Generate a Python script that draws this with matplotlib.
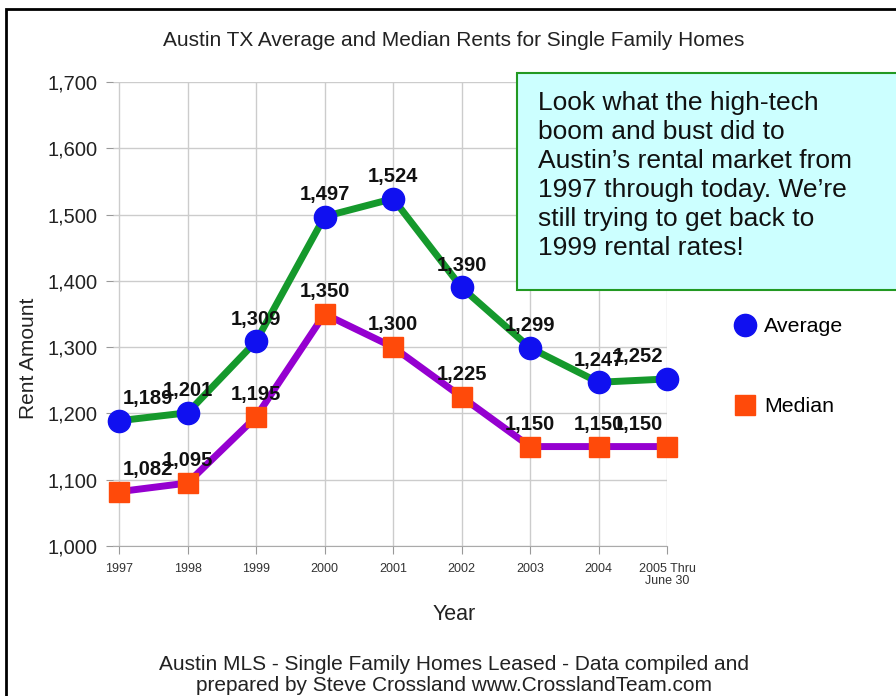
import matplotlib
matplotlib.use("Agg")
import matplotlib.pyplot as plt
from matplotlib.patches import Rectangle
from matplotlib.lines import Line2D

plt.rcParams["font.family"] = ["Liberation Sans", "DejaVu Sans"]

years = ["1997", "1998", "1999", "2000", "2001", "2002", "2003", "2004", "2005 Thru\nJune 30"]
average = [1189, 1201, 1309, 1497, 1524, 1390, 1299, 1247, 1252]
median = [1082, 1095, 1195, 1350, 1300, 1225, 1150, 1150, 1150]

# horizontal nudge of the value labels (points), first and last pushed inwards
label_dx = [21, 0, 0, 0, 0, 0, 0, 0, -21]

fig = plt.figure(figsize=(8.96, 6.96), dpi=100)
ax = fig.add_axes([113 / 896, 1 - 546 / 696, (667 - 113) / 896, (546 - 82) / 696])

x = list(range(len(years)))
ax.plot(x, average, color="#15992c", linewidth=5, marker="o", markersize=16,
        markerfacecolor="#1010f0", markeredgecolor="#1010f0", zorder=3, clip_on=False)
ax.plot(x, median, color="#9500d0", linewidth=5, marker="s", markersize=15,
        markerfacecolor="#ff4a0a", markeredgecolor="#ff4a0a", zorder=3, clip_on=False)

for i, (a, m) in enumerate(zip(average, median)):
    ax.annotate(f"{a:,}", (i, a), xytext=(label_dx[i], 12), textcoords="offset points",
                ha="center", va="baseline", fontsize=14.5, fontweight="bold", color="#111111", zorder=4)
    ax.annotate(f"{m:,}", (i, m), xytext=(label_dx[i], 12), textcoords="offset points",
                ha="center", va="baseline", fontsize=14.5, fontweight="bold", color="#111111", zorder=4)

ax.set_xlim(-0.09, 8)
ax.set_ylim(1000, 1700)
ax.set_yticks(range(1000, 1701, 100))
ax.set_yticklabels([f"{v:,}" for v in range(1000, 1701, 100)], fontsize=14.5, color="#222222")
ax.set_xticks(x)
ax.set_xticklabels(years, fontsize=9, color="#333333", linespacing=1.0)
ax.tick_params(axis="x", length=6, color="#999999", pad=6)
ax.tick_params(axis="y", length=5, color="#999999", pad=6)
ax.grid(True, color="#cccccc", linewidth=1)
ax.set_axisbelow(True)
for s in ["top", "right", "left"]:
    ax.spines[s].set_visible(False)
ax.spines["bottom"].set_color("#aaaaaa")

fig.text(454 / 896, 1 - 40 / 696, "Austin TX Average and Median Rents for Single Family Homes",
         ha="center", va="center", fontsize=15, color="#222222")
fig.text(28 / 896, 1 - 358 / 696, "Rent Amount", rotation=90, ha="center", va="center",
         fontsize=15, color="#222222")
fig.text(454 / 896, 1 - 614 / 696, "Year", ha="center", va="center", fontsize=15.5, color="#222222")
fig.text(454 / 896, 1 - 675 / 696,
         "Austin MLS - Single Family Homes Leased - Data compiled and\nprepared by Steve Crossland www.CrosslandTeam.com",
         ha="center", va="center", fontsize=15, color="#222222", linespacing=1.15)

handles = [
    Line2D([], [], linestyle="none", marker="o", markersize=16, color="#1010f0"),
    Line2D([], [], linestyle="none", marker="s", markersize=15, color="#ff4a0a"),
]
fig.legend(handles, ["Average", "Median"], loc="upper left",
           bbox_to_anchor=(715 / 896, 1 - 298 / 696), frameon=False, fontsize=15.4,
           handlelength=1.0, handletextpad=0.4, labelspacing=2.85)

# annotation box
fig.patches.append(Rectangle((517 / 896, 1 - 290 / 696), 0.5, (290 - 73) / 696,
                             transform=fig.transFigure, facecolor="#ccffff",
                             edgecolor="#229922", linewidth=1.5, zorder=5))
fig.text(538 / 896, 1 - 91 / 696,
         "Look what the high-tech\nboom and bust did to\nAustin\u2019s rental market from\n"
         "1997 through today. We\u2019re\nstill trying to get back to\n1999 rental rates!",
         ha="left", va="top", fontsize=19, color="#111111", linespacing=1.26, zorder=6)

# outer frame, cut off at right and bottom
fig.patches.append(Rectangle((6 / 896, -0.1), 1.2, 1.1 - 9 / 696, transform=fig.transFigure,
                             facecolor="none", edgecolor="black", linewidth=2, zorder=7))

fig.savefig("out.png", dpi=100)
plt.close(fig)
